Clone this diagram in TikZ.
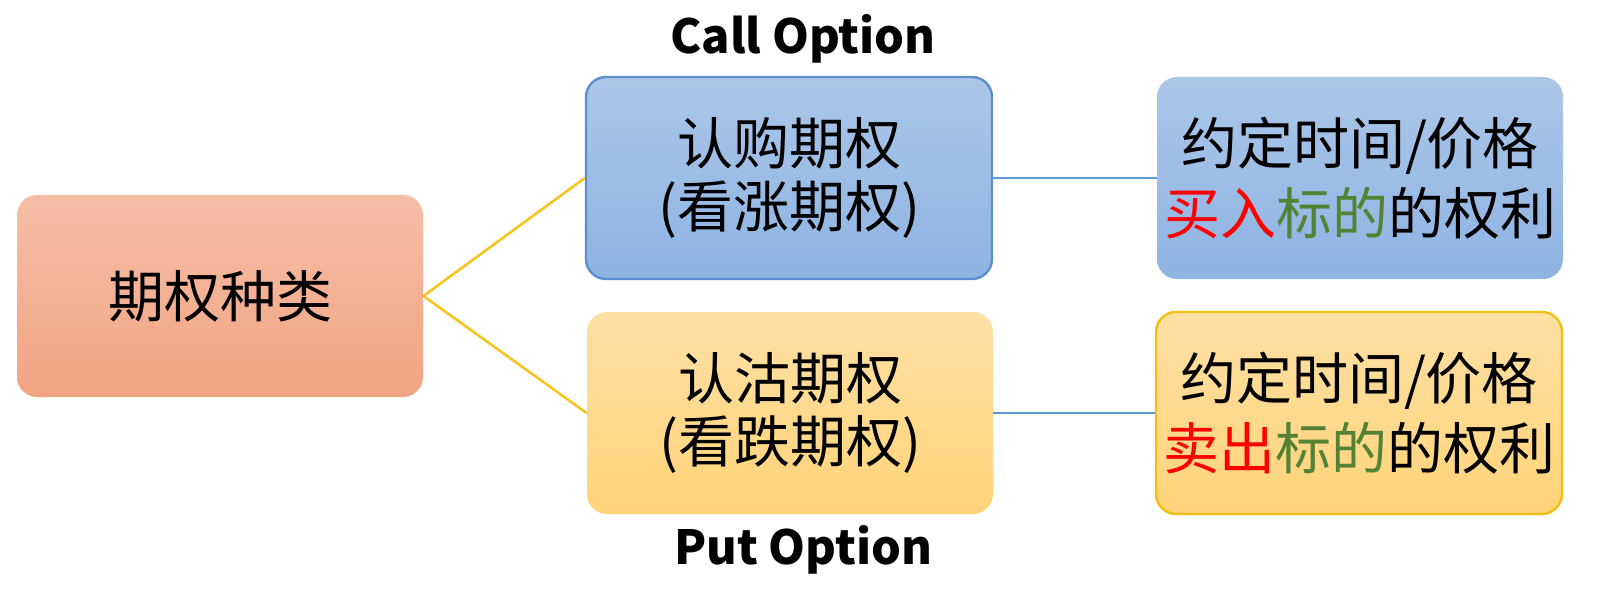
\documentclass[tikz,border=0pt]{standalone}
\usepackage{fontspec}
\usepackage{tikz}
\setmainfont{Noto Sans CJK SC}

\definecolor{kindtop}{RGB}{245,190,166}
\definecolor{kindbot}{RGB}{242,164,130}
\definecolor{calltop}{RGB}{172,198,233}
\definecolor{callbot}{RGB}{141,180,226}
\definecolor{calledge}{RGB}{91,143,205}
\definecolor{puttop}{RGB}{254,224,165}
\definecolor{putbot}{RGB}{255,211,120}
\definecolor{putedge}{RGB}{242,192,20}
\definecolor{goldline}{RGB}{246,196,30}
\definecolor{blueline}{RGB}{91,155,213}
\definecolor{tradered}{RGB}{255,0,0}
\definecolor{markgreen}{RGB}{84,130,53}

\begin{document}
\begin{tikzpicture}[x=0.5pt,y=-0.5pt,
	box/.style={rounded corners=10pt,minimum width=203pt,minimum height=101pt,
		inner sep=2pt,align=center,font=\fontsize{28}{31.7}\selectfont},
	rightbox/.style={box,font=\fontsize{28}{35.3}\selectfont},
	bluebox/.style={top color=calltop,bottom color=callbot},
	yellowbox/.style={top color=puttop,bottom color=putbot},
	optname/.style={font=\fontsize{23.5}{26}\selectfont\bfseries}]
	
	\useasboundingbox (0,0) rectangle (1605,604);
	
	\node[box,top color=kindtop,bottom color=kindbot] (kind) at (220,296)     {期权种类};
	\node[box,bluebox,draw=calledge,line width=1.2pt] (call) at (789,178)     {认购期权\\(看涨期权)};
	\node[box,yellowbox] (put) at (790,413)     {认沽期权\\(看跌期权)};
	\node[rightbox,bluebox] (buy) at (1360,178)     {约定时间/价格\\{\color{tradered}买入}{\color{markgreen}标的}的权利};
	\node[rightbox,yellowbox,draw=putedge,line width=1.2pt] (sell) at (1359,413)     {约定时间/价格\\{\color{tradered}卖出}{\color{markgreen}标的}的权利};
	\node[optname] (callname) at (803,39)     {Call Option};
	\node[optname] (putname) at (803,550)     {Put Option};
	
	\path[-,draw=goldline,line width=1.3pt] (kind.east) edge (call.west);
	\path[-,draw=goldline,line width=1.3pt] (kind.east) edge (put.west);
	\path[-,draw=blueline,line width=1.3pt] (call.east) edge (buy.west);
	\path[-,draw=blueline,line width=1.3pt] (put.east) edge (sell.west);
	\end{tikzpicture}
\end{document}
